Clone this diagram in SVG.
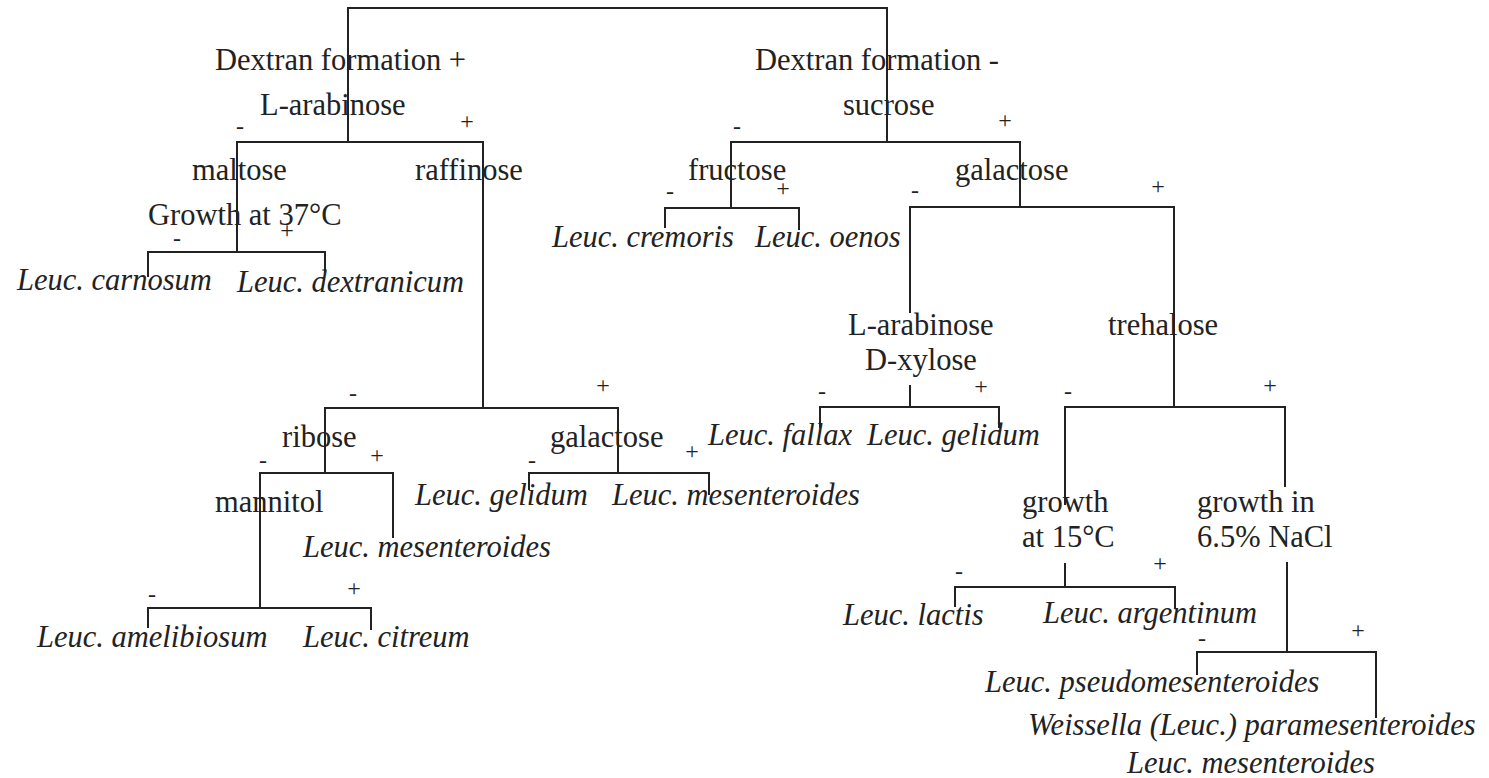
<svg xmlns="http://www.w3.org/2000/svg" width="1489" height="778" viewBox="0 0 1489 778">
<style>
.t{font-family:"Liberation Serif","Times New Roman",serif;font-size:30.5px;fill:#222}
.i{font-style:italic}
.s{font-family:"Liberation Serif","Times New Roman",serif;font-size:24px;fill:#222;text-anchor:middle}
.c{fill:none;stroke:#222;stroke-width:2}
</style>
<rect width="1489" height="778" fill="#fff"/>
<g id="connectors" class="c">
<path d="M348,142V8H887V142"/>
<path d="M237,252V142H483V408"/>
<path d="M148,277V252H325V272"/>
<path d="M325,473V408H618V473"/>
<path d="M260,608V473H393V538"/>
<path d="M148,628V608H371V630"/>
<path d="M529,490V473H709V495"/>
<path d="M731,208V142H1020V207"/>
<path d="M665,228V208H799V230"/>
<path d="M910,313V207H1174V407"/>
<path d="M910,385V407M820,428V407H999V428"/>
<path d="M1065,505V407H1285V487"/>
<path d="M1065,563V587M955,607V587H1175V608"/>
<path d="M1287,562V652M1197,675V652H1376V718"/>
</g>
<g id="signs" class="s">
<text x="240" y="134">-</text><text x="467" y="129">+</text>
<text x="737" y="134">-</text><text x="1005" y="128">+</text>
<text x="177" y="246">-</text><text x="287" y="238">+</text>
<text x="670" y="199">-</text><text x="783" y="196">+</text>
<text x="915" y="198">-</text><text x="1158" y="194">+</text>
<text x="353" y="401">-</text><text x="603" y="393">+</text>
<text x="822" y="399">-</text><text x="981" y="394">+</text>
<text x="1068" y="399">-</text><text x="1270" y="393">+</text>
<text x="263" y="468">-</text><text x="377" y="463">+</text>
<text x="532" y="468">-</text><text x="692" y="459">+</text>
<text x="152" y="602">-</text><text x="354" y="596">+</text>
<text x="959" y="579">-</text><text x="1160" y="571">+</text>
<text x="1202" y="646">-</text><text x="1358" y="638">+</text>
</g>
<g id="n-dextran-pos"><text class="t" x="215" y="70">Dextran formation +</text></g>
<g id="n-dextran-neg"><text class="t" x="755" y="70">Dextran formation -</text></g>
<g id="n-larabinose1"><text class="t" x="260" y="115">L-arabinose</text></g>
<g id="n-sucrose"><text class="t" x="843" y="115">sucrose</text></g>
<g id="n-maltose"><text class="t" x="192" y="180">maltose</text></g>
<g id="n-raffinose"><text class="t" x="415" y="180">raffinose</text></g>
<g id="n-fructose"><text class="t" x="688" y="180">fructose</text></g>
<g id="n-galactose1"><text class="t" x="955" y="180">galactose</text></g>
<g id="n-growth37"><text class="t" x="148" y="225">Growth at 37°C</text></g>
<g id="n-carnosum"><text class="t i" x="17" y="290">Leuc. carnosum</text></g>
<g id="n-dextranicum"><text class="t i" x="237" y="292">Leuc. dextranicum</text></g>
<g id="n-cremoris"><text class="t i" x="552" y="247">Leuc. cremoris</text></g>
<g id="n-oenos"><text class="t i" x="755" y="247">Leuc. oenos</text></g>
<g id="n-arab-xyl"><text class="t" x="848" y="335">L-arabinose</text><text class="t" x="865" y="370">D-xylose</text></g>
<g id="n-trehalose"><text class="t" x="1108" y="335">trehalose</text></g>
<g id="n-fallax"><text class="t i" x="708" y="445">Leuc. fallax</text></g>
<g id="n-gelidum1"><text class="t i" x="867" y="445">Leuc. gelidum</text></g>
<g id="n-ribose"><text class="t" x="282" y="447">ribose</text></g>
<g id="n-galactose2"><text class="t" x="550" y="447">galactose</text></g>
<g id="n-mannitol"><text class="t" x="215" y="512">mannitol</text></g>
<g id="n-gelidum2"><text class="t i" x="415" y="505">Leuc. gelidum</text></g>
<g id="n-mesenteroides1"><text class="t i" x="612" y="505">Leuc. mesenteroides</text></g>
<g id="n-mesenteroides2"><text class="t i" x="303" y="557">Leuc. mesenteroides</text></g>
<g id="n-growth15"><text class="t" x="1022" y="512">growth</text><text class="t" x="1022" y="547">at 15°C</text></g>
<g id="n-nacl"><text class="t" x="1197" y="512">growth in</text><text class="t" x="1197" y="547">6.5% NaCl</text></g>
<g id="n-lactis"><text class="t i" x="843" y="625">Leuc. lactis</text></g>
<g id="n-argentinum"><text class="t i" x="1043" y="623">Leuc. argentinum</text></g>
<g id="n-amelibiosum"><text class="t i" x="37" y="647">Leuc. amelibiosum</text></g>
<g id="n-citreum"><text class="t i" x="303" y="647">Leuc. citreum</text></g>
<g id="n-pseudomes"><text class="t i" x="985" y="692">Leuc. pseudomesenteroides</text></g>
<g id="n-paramesenteroides"><text class="t i" x="1028" y="735">Weissella (Leuc.) paramesenteroides</text><text class="t i" x="1127" y="773">Leuc. mesenteroides</text></g>
</svg>
